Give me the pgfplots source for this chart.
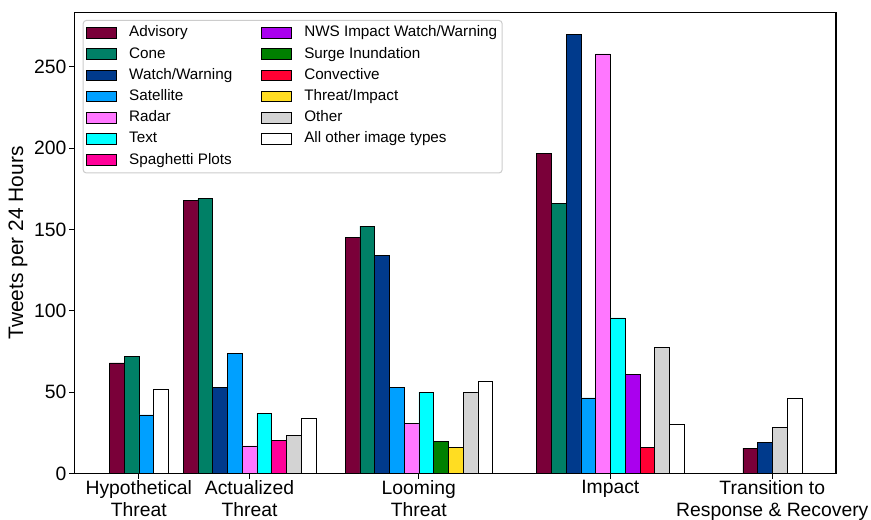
\documentclass[border=0pt]{standalone}
\usepackage{fontspec}
\setmainfont{Liberation Sans}
\usepackage{pgfplots}
\pgfplotsset{compat=1.18}
\definecolor{cAdv}{HTML}{7A0039}
\definecolor{cCone}{HTML}{008066}
\definecolor{cWW}{HTML}{003A8C}
\definecolor{cSat}{HTML}{00A0FF}
\definecolor{cRad}{HTML}{FF77FF}
\definecolor{cText}{HTML}{00FFFF}
\definecolor{cSpa}{HTML}{FF0099}
\definecolor{cNWS}{HTML}{AA00EE}
\definecolor{cSurge}{HTML}{008000}
\definecolor{cConv}{HTML}{FF0033}
\definecolor{cTI}{HTML}{FFDD22}
\definecolor{cOther}{HTML}{D3D3D3}
\definecolor{cAll}{HTML}{FFFFFF}
\begin{document}
\begin{tikzpicture}
\begin{axis}[
  at={(74.5bp,46.5bp)}, anchor=south west,
  scale only axis, width=761.5bp, height=461.2bp,
  xmin=74.5, xmax=836, ymin=0, ymax=283.5,
  ybar, bar width=14.74, bar shift=0pt,
  axis line style={line width=1.1bp, black},
  tick align=outside, xtick pos=bottom, ytick pos=left,
  major tick length=5bp, tick style={line width=1bp, black},
  ytick={0,50,100,150,200,250},
  xtick={138.8,249.5,418.8,610.3,772.3},
  xticklabels={{Hypothetical\\Threat},{Actualized\\Threat},{Looming\\Threat},{Impact},{Transition to\\Response \& Recovery}},
  xticklabel style={align=center, font=\fontsize{19.4}{21.5}\selectfont, anchor=north, inner ysep=2bp},
  yticklabel style={font=\fontsize{19.4}{22}\selectfont, inner xsep=3bp},
  /pgf/number format/assume math mode=true,
  ylabel={Tweets per 24 Hours},
  ylabel style={font=\fontsize{21}{24}\selectfont},
  legend columns=2,
  legend cell align=left,
  legend style={at={(0.0108,0.9833)}, anchor=north west, draw=black!20, rounded corners=3bp, line width=1bp,
    font=\fontsize{15.3}{18}\selectfont, inner xsep=3bp, inner ysep=2bp,
    nodes={text height=11bp, text depth=3.5bp, inner ysep=3.35bp},
    /tikz/every odd column/.append style={column sep=10bp},
    /tikz/every even column/.append style={column sep=27bp}},
  legend image code/.code={\draw[#1, sharp corners, line width=1bp] (0bp,-5.3bp) rectangle (30bp,5.3bp);},
]
\addplot[fill=cAdv, draw=black] coordinates {(116.69,68) (190.54,168) (352.47,145) (543.97,197) (750.19,15.6)};
\addlegendentry{Advisory}
\addplot[fill=cNWS, draw=black] coordinates {(632.41,61)};
\addlegendentry{NWS Impact Watch/Warning}
\addplot[fill=cCone, draw=black] coordinates {(131.43,72) (205.28,169) (367.21,152) (558.71,166)};
\addlegendentry{Cone}
\addplot[fill=cSurge, draw=black] coordinates {(440.91,20)};
\addlegendentry{Surge Inundation}
\addplot[fill=cWW, draw=black] coordinates {(220.02,53) (381.95,134) (573.45,270) (764.93,19.3)};
\addlegendentry{Watch/Warning}
\addplot[fill=cConv, draw=black] coordinates {(647.15,16)};
\addlegendentry{Convective}
\addplot[fill=cSat, draw=black] coordinates {(146.17,36) (234.76,74) (396.69,53) (588.19,46.5)};
\addlegendentry{Satellite}
\addplot[fill=cTI, draw=black] coordinates {(455.65,16)};
\addlegendentry{Threat/Impact}
\addplot[fill=cRad, draw=black] coordinates {(249.5,17) (411.43,31) (602.93,258)};
\addlegendentry{Radar}
\addplot[fill=cOther, draw=black] coordinates {(293.72,23.3) (470.39,50) (661.89,77.4) (779.67,28.3)};
\addlegendentry{Other}
\addplot[fill=cText, draw=black] coordinates {(264.24,37) (426.17,50) (617.67,95.6)};
\addlegendentry{Text}
\addplot[fill=cAll, draw=black] coordinates {(160.91,52) (308.46,34) (485.13,57) (676.63,30) (794.41,46.3)};
\addlegendentry{All other image types}
\addplot[fill=cSpa, draw=black] coordinates {(278.98,20.7)};
\addlegendentry{Spaghetti Plots}
\end{axis}
\pgfresetboundingbox
\path[use as bounding box] (0,0) rectangle (871bp,520bp);
\end{tikzpicture}
\end{document}
